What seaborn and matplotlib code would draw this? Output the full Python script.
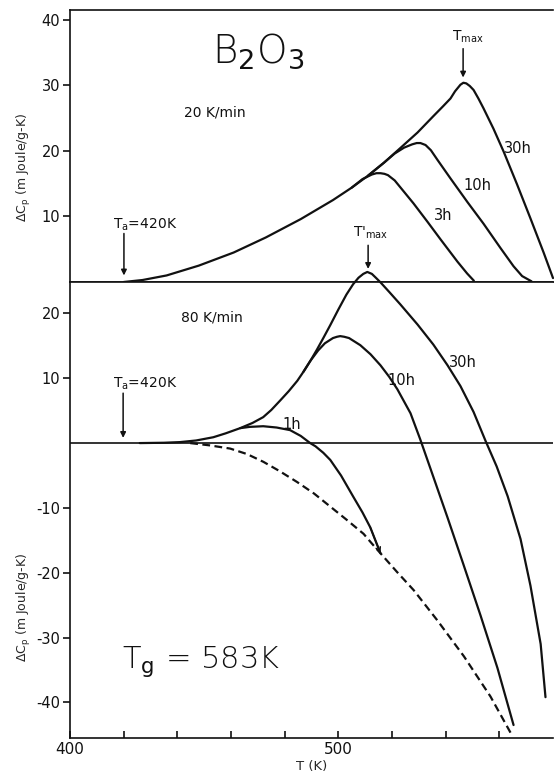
import matplotlib
matplotlib.use("Agg")
import matplotlib.pyplot as plt
import pandas as pd
import seaborn as sns

# ---- excess heat capacity of annealed B2O3 glass --------------------------
# heating rate 20 K/min (annealed 30 h, 10 h, 3 h)
t20_30h = [420, 427, 436, 448, 461, 473, 486, 498, 505, 511, 517, 523, 529.5,
           535.4, 539, 541.8, 543.5, 545.5, 546.6, 547.7, 549, 550.4, 552.2,
           554.1, 557.8, 561.6, 566.6, 571.6, 576.5, 580]
cp20_30h = [0, 0.3, 1.0, 2.5, 4.5, 6.8, 9.6, 12.5, 14.4, 16.2, 18.2, 20.4, 22.8,
            25.3, 26.8, 28.0, 29.1, 30.1, 30.4, 30.3, 29.9, 29.3, 28.0,
            26.5, 23.4, 19.9, 14.9, 9.7, 4.5, 0.6]

t20_10h = [511, 517, 521, 524.5, 527.5, 529.2, 530.6, 532.5, 534.5, 537,
           541.8, 548.1, 554.1, 560.4, 565.3, 568.5, 572]
cp20_10h = [16.2, 18.2, 19.6, 20.5, 21.0, 21.2, 21.2, 20.9, 20.1, 18.6,
            15.8, 12.2, 8.9, 5.2, 2.4, 0.9, 0.1]

t20_3h = [505, 509, 512.5, 514.2, 515.7, 517.2, 518.5, 521, 524, 528, 533.2,
          538.1, 544.4, 548, 550.5]
cp20_3h = [14.4, 15.7, 16.4, 16.6, 16.6, 16.5, 16.3, 15.5, 14.0, 12.0, 9.2,
           6.5, 3.1, 1.3, 0.2]

# heating rate 80 K/min (annealed 30 h, 10 h, 1 h) and unannealed baseline
t80_30h = [426, 435, 441, 447, 453.4, 458, 463.4, 468, 472, 475, 478.4, 481.5,
           484.7, 487, 489.6, 492, 494.4, 497, 500, 503, 505.5, 507.5, 509.3,
           510.8, 512.5, 514, 515.7, 519, 523.1, 529.5, 535.4, 540.7, 545.5,
           550.4, 554.9, 559, 563.1, 567.9, 571.6, 575.4, 577.2]
cp80_30h = [0, 0.05, 0.15, 0.4, 0.9, 1.5, 2.3, 3.1, 4.0, 5.1, 6.6, 8.0,
            9.6, 11.0, 12.7, 14.4, 16.2, 18.2, 20.6, 22.9, 24.5, 25.5, 26.1,
            26.4, 26.1, 25.5, 24.8, 23.3, 21.4, 18.3, 15.2, 12.0, 8.8,
            4.8, 0.3, -3.6, -8.2, -14.8, -22.0, -31.0, -39.2]

t80_10h = [487, 489.6, 492.5, 495, 498, 499.5, 500.7, 502.2, 504, 508.2, 512,
           515.7, 519, 522, 526.9, 530.5, 534.3, 540.7, 546.6, 553, 559.3, 565.3]
cp80_10h = [11.0, 12.7, 14.3, 15.4, 16.2, 16.4, 16.5, 16.4, 16.2, 15.1, 13.7,
            12.0, 10.2, 8.3, 4.6, 0.6, -3.9, -11.5, -18.7, -26.6, -34.7, -43.5]

t80_1h = [463.4, 467, 472, 477, 482, 486, 489.5, 491.5, 494.4, 497, 501,
          505.6, 509, 511.9, 515.7]
cp80_1h = [2.3, 2.5, 2.6, 2.4, 2.0, 1.1, 0, -0.5, -1.5, -2.6, -5.0,
           -8.3, -10.7, -13.0, -17.0]

t80_base = [444.8, 452, 459.7, 466, 472.1, 478, 484.6, 491, 497.0, 503,
            509.4, 512.5, 515.7, 521.9, 528.1, 536.8, 546.8, 556.7, 564.2]
cp80_base = [0, -0.35, -0.85, -1.7, -2.9, -4.3, -6.0, -7.8, -9.8, -11.8,
             -14.0, -15.5, -17.0, -19.9, -22.7, -27.3, -32.9, -39.1, -44.7]

# axes
x_ticks = [400, 420, 440, 460, 480, 500, 520, 540, 560]
x_tick_labels = ["400", "", "", "", "", "500", "", "", ""]
y_ticks_20 = [10, 20, 30, 40]
y_ticks_80 = [-40, -30, -20, -10, 10, 20]

sns.set_theme(style="ticks")
plt.rcParams["font.family"] = ["DejaVu Sans"]
plt.rcParams["axes.linewidth"] = 1.2
plt.rcParams["axes.unicode_minus"] = False

INK = "#111111"

fig = plt.figure(figsize=(5.54, 7.76), dpi=100)
ax20 = fig.add_axes([70 / 554, 1 - 282 / 776, 483 / 554, 272 / 776])
ax80 = fig.add_axes([70 / 554, 1 - 738 / 776, 483 / 554, 456 / 776])


def trace(ax, t, cp, style="-"):
    df = pd.DataFrame({"T": t, "dCp": cp})
    sns.lineplot(data=df, x="T", y="dCp", ax=ax, color=INK, lw=1.6,
                 estimator=None, sort=False)
    line = ax.lines[-1]
    line.set_linestyle(style)
    line.set_solid_joinstyle("round")
    line.set_dash_joinstyle("round")
    line.set_clip_on(False)
    return line


def arrow(ax, tail, tip, style="-|>"):
    ax.annotate("", xy=tip, xytext=tail,
                arrowprops=dict(arrowstyle=style, color=INK, lw=1.1,
                                mutation_scale=8, shrinkA=0, shrinkB=0))


# ---- upper panel: 20 K/min ----
trace(ax20, t20_30h, cp20_30h)
trace(ax20, t20_10h, cp20_10h)
trace(ax20, t20_3h, cp20_3h)

ax20.set_xlim(400, 580)
ax20.set_ylim(0, 41.5)
ax20.set_yticks(y_ticks_20)
ax20.set_xticks([])
ax20.set_xlabel("")
ax20.set_ylabel(r"$\Delta$C$_\mathrm{p}$ (m Joule/g-K)", fontsize=9)
ax20.yaxis.set_label_coords(-37 / 483, (282 - 167) / 272)

ax20.text(453, 33.4, r"B$_2$O$_3$", fontsize=28, ha="left", va="baseline",
          color=INK, fontweight="light")
ax20.text(454, 25.8, "20 K/min", fontsize=10, ha="center", va="center", color=INK)
ax20.text(416, 8.2, r"T$_\mathrm{a}$=420K", fontsize=10, ha="left",
          va="baseline", color=INK)
arrow(ax20, (420.1, 7.4), (420.1, 1.0))
ax20.text(542.5, 36.9, r"T$_\mathrm{max}$", fontsize=10, ha="left",
          va="baseline", color=INK)
arrow(ax20, (546.5, 35.6), (546.5, 31.2))
ax20.text(505.5, 6.9, r"T$'_\mathrm{max}$", fontsize=10, ha="left",
          va="baseline", color=INK)
arrow(ax20, (511.1, 5.6), (511.1, 2.0))
ax20.text(567.0, 20.3, "30h", fontsize=10.5, ha="center", va="center", color=INK)
ax20.text(551.7, 14.7, "10h", fontsize=10.5, ha="center", va="center", color=INK)
ax20.text(539.0, 10.1, "3h", fontsize=10.5, ha="center", va="center", color=INK)

# ---- lower panel: 80 K/min ----
ax80.axhline(0, color=INK, lw=1.2)
trace(ax80, t80_30h, cp80_30h)
trace(ax80, t80_10h, cp80_10h)
trace(ax80, t80_1h, cp80_1h)
trace(ax80, t80_base, cp80_base, style=(0, (3.5, 2)))
arrow(ax80, (t80_1h[-2], cp80_1h[-2]), (t80_1h[-1], cp80_1h[-1]), style="->")

ax80.set_xlim(400, 580)
ax80.set_ylim(-45.5, 24.85)
ax80.set_yticks(y_ticks_80)
ax80.set_xticks(x_ticks)
ax80.set_xticklabels(x_tick_labels)
ax80.set_xlabel("T (K)", fontsize=9.5, labelpad=2)
ax80.set_ylabel(r"$\Delta$C$_\mathrm{p}$ (m Joule/g-K)", fontsize=9)
ax80.yaxis.set_label_coords(-37 / 483, (738 - 607) / 456)

ax80.text(452.9, 19.4, "80 K/min", fontsize=10, ha="center", va="center", color=INK)
ax80.text(416, 8.5, r"T$_\mathrm{a}$=420K", fontsize=10, ha="left",
          va="baseline", color=INK)
arrow(ax80, (419.8, 7.7), (419.8, 0.8))
ax80.text(482.7, 2.9, "1h", fontsize=10.5, ha="center", va="center", color=INK)
ax80.text(523.7, 9.7, "10h", fontsize=10.5, ha="center", va="center", color=INK)
ax80.text(546.5, 12.5, "30h", fontsize=10.5, ha="center", va="center", color=INK)
ax80.text(419.4, -34.7, r"T$_\mathrm{g}$ = 583K", fontsize=22, ha="left",
          va="baseline", color=INK, fontweight="light")

for ax in (ax20, ax80):
    ax.set_facecolor("white")
    ax.spines["right"].set_visible(False)
    ax.spines["top"].set_visible(True)
    ax.tick_params(axis="y", direction="out", length=5, width=1.2,
                   labelsize=10.5, pad=2, colors=INK)
    ax.tick_params(axis="x", direction="in", length=5, width=1.2,
                   labelsize=11, pad=3, colors=INK)
    for s in ax.spines.values():
        s.set_color(INK)

fig.savefig("out.png", dpi=100, facecolor="white")
